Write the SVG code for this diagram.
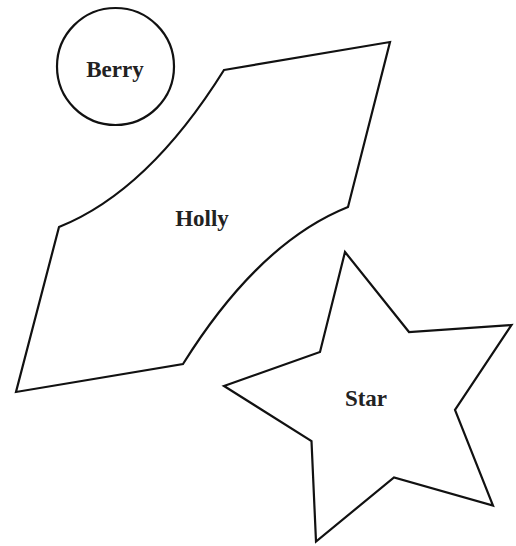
<svg xmlns="http://www.w3.org/2000/svg" width="516" height="546" viewBox="0 0 516 546">
<style>
.shape{fill:#ffffff;stroke:#111111;stroke-width:2.2;stroke-linejoin:miter}
.label{font-family:"Liberation Serif","Times New Roman",serif;font-weight:bold;font-size:23px;fill:#222222;text-anchor:middle}
</style>
<rect width="516" height="546" fill="#ffffff"/>
<g id="berry">
<circle class="shape" cx="115.5" cy="66.5" r="58.5"/>
<text class="label" x="115" y="76.5">Berry</text>
</g>
<g id="holly">
<path class="shape" d="M224,70 L390,42 L348,207 Q258.8,242.7 183,364 L16,392 L59,227 Q148.2,191.3 224,70 Z"/>
<text class="label" x="202" y="225.5">Holly</text>
</g>
<g id="star">
<polygon class="shape" points="345,252 409,332 511.5,325 455,410 493,505.5 394,477.5 316,541.5 311.5,441 224,386 320,352"/>
<text class="label" x="366" y="406">Star</text>
</g>
<g id="connectors"></g>
</svg>
